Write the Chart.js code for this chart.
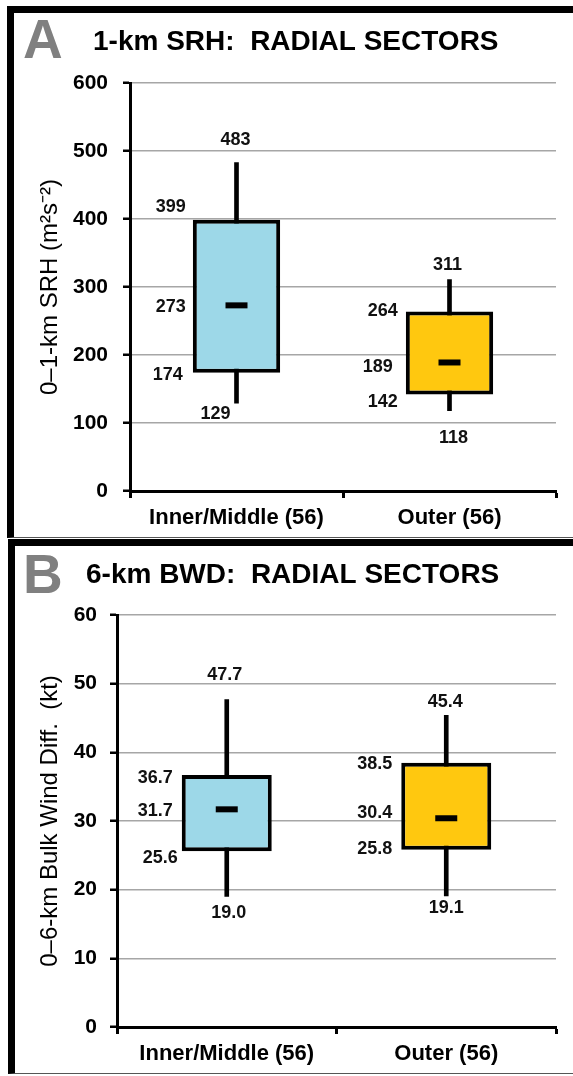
<!DOCTYPE html>
<html><head><meta charset="utf-8">
<script src="https://cdn.jsdelivr.net/npm/chart.js@4.4.1/dist/chart.umd.min.js"></script>
<style>
html,body{margin:0;padding:0;background:#fff;width:573px;height:1076px;overflow:hidden;}
.panel{position:absolute;border-left:7px solid #000;border-top:7px solid #000;border-bottom:1px solid #555;background:#fff;}
#pA{left:7px;top:6px;width:559px;height:524px;}
#pB{left:8px;top:539px;width:558px;height:527px;}
canvas{display:block;}
</style></head><body>
<div class="panel" id="pA"><canvas id="cA" width="559" height="524"></canvas></div>
<div class="panel" id="pB"><canvas id="cB" width="558" height="527"></canvas></div>
<script>
// ---------- DATA ----------
const categories = ['Inner/Middle (56)', 'Outer (56)'];

const srhMin  = [129, 118];
const srhQ1   = [174, 142];
const srhMean = [273, 189];
const srhQ3   = [399, 264];
const srhMax  = [483, 311];
const srhTicks = [0, 100, 200, 300, 400, 500, 600];

const bwdMin  = [19.0, 19.1];
const bwdQ1   = [25.6, 25.8];
const bwdMean = [31.7, 30.4];
const bwdQ3   = [36.7, 38.5];
const bwdMax  = [47.7, 45.4];
const bwdTicks = [0, 10, 20, 30, 40, 50, 60];

// ---------- STYLE ----------
const FONT = "'Liberation Sans', Arial, sans-serif";
const boxColors = ['#9dd8e8', '#ffc80f'];

const panelA = {
  letter: 'A', title: '1-km SRH:  RADIAL SECTORS',
  yTitle: '0\u20131-km SRH (m\u00B2s\u207B\u00B2)',
  min: srhMin, q1: srhQ1, mean: srhMean, q3: srhQ3, max: srhMax, ticks: srhTicks, decimals: 0,
  pad: {left: 0, right: 11, top: 70, bottom: 0}, yAxisW: 116, xAxisH: 46, tickPad: 15, titlePad: 22,
  letterPos: [9, 45], titlePos: [79, 37],
  off: {
    max:  [[-1, -23], [-2, -14]],
    min:  [[-21, 11], [4, 27]],
    q3:   [[-7, -13], [-8, 0]],
    mean: [[-7, 2], [-13, 5]],
    q1:   [[-10, 2], [-8, 8]]
  }
};
const panelB = {
  letter: 'B', title: '6-km BWD:  RADIAL SECTORS',
  yTitle: '0\u20136-km Bulk Wind Diff.  (kt)',
  min: bwdMin, q1: bwdQ1, mean: bwdMean, q3: bwdQ3, max: bwdMax, ticks: bwdTicks, decimals: 1,
  pad: {left: 0, right: 16, top: 69, bottom: 0}, yAxisW: 102, xAxisH: 46, tickPad: 13, titlePad: 21,
  letterPos: [8, 47], titlePos: [71, 37],
  off: {
    max:  [[-2, -24], [-1, -13]],
    min:  [[2, 16], [0, 12]],
    q3:   [[-9, 3], [-9, 1]],
    mean: [[-9, 2], [-9, -5]],
    q1:   [[-4, 7], [-9, -1]]
  }
};

const decorPlugin = {
  id: 'decor',
  afterDatasetsDraw(chart, args, opts) {
    const p = opts.panel;
    const c = chart.ctx;
    const ys = chart.scales.y;
    const meta = chart.getDatasetMeta(1);
    c.save();
    c.fillStyle = '#111';
    c.font = 'bold 18px ' + FONT;
    c.textBaseline = 'middle';
    const fmt = v => v.toFixed(p.decimals);
    meta.data.forEach((bar, i) => {
      const left = bar.x - bar.width / 2;
      const o = p.off;
      c.textAlign = 'center';
      c.fillText(fmt(p.max[i]), bar.x + o.max[i][0], ys.getPixelForValue(p.max[i]) + o.max[i][1]);
      c.fillText(fmt(p.min[i]), bar.x + o.min[i][0], ys.getPixelForValue(p.min[i]) + o.min[i][1]);
      c.textAlign = 'right';
      c.fillText(fmt(p.q3[i]), left + o.q3[i][0], ys.getPixelForValue(p.q3[i]) + o.q3[i][1]);
      c.fillText(fmt(p.mean[i]), left + o.mean[i][0], ys.getPixelForValue(p.mean[i]) + o.mean[i][1]);
      c.fillText(fmt(p.q1[i]), left + o.q1[i][0], ys.getPixelForValue(p.q1[i]) + o.q1[i][1]);
    });
    c.restore();
  },
  afterDraw(chart, args, opts) {
    const p = opts.panel;
    const c = chart.ctx;
    c.save();
    c.textBaseline = 'alphabetic';
    c.textAlign = 'left';
    c.fillStyle = '#808080';
    c.font = 'bold 55px ' + FONT;
    c.fillText(p.letter, p.letterPos[0], p.letterPos[1]);
    c.fillStyle = '#000';
    c.font = 'bold 28px ' + FONT;
    c.fillText(p.title, p.titlePos[0], p.titlePos[1]);
    c.restore();
  }
};

function buildPanel(id, p) {
  return new Chart(document.getElementById(id), {
    type: 'bar',
    data: {
      labels: categories,
      datasets: [
        { type: 'line', label: 'Mean', data: p.mean, showLine: false,
          pointStyle: 'line', pointRadius: 11, pointHoverRadius: 11,
          pointBorderWidth: 6, pointHoverBorderWidth: 6,
          pointBorderColor: '#000', borderColor: '#000', order: 0 },
        { label: 'Box', data: p.q1.map((v, i) => [v, p.q3[i]]),
          backgroundColor: boxColors, borderColor: '#000', borderWidth: 4,
          borderSkipped: false, grouped: false, barPercentage: 0.41, categoryPercentage: 1, order: 1 },
        { label: 'Whisker', data: p.min.map((v, i) => [v, p.max[i]]),
          backgroundColor: '#000', borderWidth: 0, barThickness: 4, grouped: false, order: 2 }
      ]
    },
    options: {
      responsive: false, animation: false, devicePixelRatio: 1,
      layout: { padding: p.pad },
      plugins: { legend: { display: false }, tooltip: { enabled: false }, decor: { panel: p } },
      scales: {
        x: {
          offset: true,
          grid: { display: true, drawOnChartArea: false, drawTicks: true, tickLength: 7,
                  tickColor: '#000', tickWidth: 3, offset: true },
          border: { display: true, color: '#000', width: 3 },
          ticks: { color: '#000', font: { family: FONT, size: 22, weight: 'bold' },
                   padding: 7, maxRotation: 0, autoSkip: false },
          afterFit(s) { s.height = p.xAxisH; }
        },
        y: {
          min: p.ticks[0], max: p.ticks[p.ticks.length - 1],
          afterBuildTicks(s) { s.ticks = p.ticks.map(v => ({ value: v })); },
          grid: { color: '#a6a6a6', lineWidth: 1.5, drawTicks: true, tickLength: 7,
                  tickColor: '#000', tickWidth: 2.5 },
          border: { display: true, color: '#000', width: 3 },
          ticks: { color: '#000', font: { family: FONT, size: 21, weight: 'bold' },
                   padding: p.tickPad, callback: v => String(v) },
          title: { display: true, text: p.yTitle, color: '#000',
                   font: { family: FONT, size: 24, weight: 'normal' },
                   padding: { top: p.titlePad, bottom: 0 } },
          afterFit(s) { s.width = p.yAxisW; }
        }
      }
    },
    plugins: [decorPlugin]
  });
}

buildPanel('cA', panelA);
buildPanel('cB', panelB);
</script>
</body></html>
